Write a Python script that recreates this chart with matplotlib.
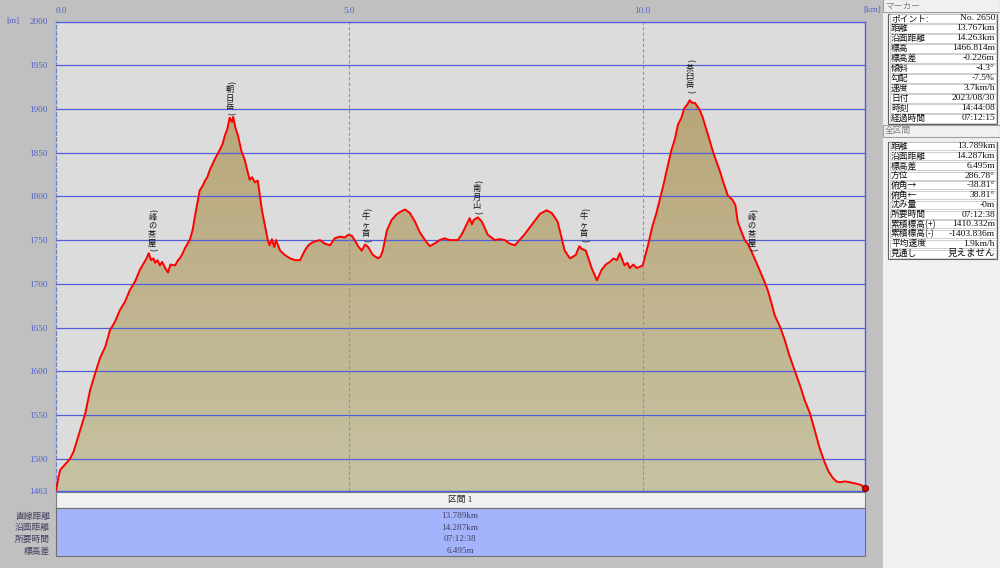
import matplotlib
matplotlib.use("Agg")
import matplotlib.pyplot as plt
import numpy as np
from matplotlib.patches import Rectangle, Polygon
from matplotlib.colors import LinearSegmentedColormap

plt.rcParams['font.family'] = ['Noto Sans CJK JP', 'DejaVu Sans']

# ---------------- data ----------------
dist_km = [0.00, 0.04, 0.07, 0.15, 0.24, 0.30, 0.41, 0.50, 0.58, 0.66, 0.75, 0.84, 0.92, 1.00, 1.09,
           1.18, 1.26, 1.35, 1.43, 1.50, 1.55, 1.58, 1.62, 1.66, 1.69, 1.73, 1.77, 1.81, 1.86,
           1.91, 1.95, 2.03, 2.08, 2.11, 2.16, 2.20, 2.28, 2.33, 2.37, 2.45, 2.50, 2.54, 2.58, 2.62,
           2.71, 2.79, 2.84, 2.88, 2.92, 2.96, 3.00, 3.02, 3.06, 3.10,
           3.16, 3.22, 3.30, 3.34, 3.39, 3.44, 3.51, 3.61, 3.64, 3.68, 3.72, 3.75, 3.82, 3.90, 3.99,
           4.08, 4.16, 4.24, 4.30, 4.36, 4.44, 4.50, 4.58, 4.67,
           4.75, 4.84, 4.92, 4.98, 5.04, 5.09, 5.15, 5.21, 5.27, 5.32, 5.40, 5.49, 5.53, 5.57, 5.64,
           5.72, 5.80, 5.86, 5.95, 6.03,
           6.12, 6.20, 6.29, 6.37, 6.45, 6.54, 6.62, 6.71, 6.85, 6.92, 6.97, 7.05, 7.09, 7.12, 7.19,
           7.26, 7.36, 7.48, 7.56, 7.65,
           7.73, 7.82, 7.90, 7.98, 8.07, 8.16, 8.25, 8.36, 8.45, 8.55, 8.62, 8.67, 8.76, 8.86, 8.92,
           8.96, 9.03, 9.13, 9.22,
           9.30, 9.37, 9.44, 9.50, 9.56, 9.61, 9.69, 9.74, 9.78, 9.84, 9.90, 10.00, 10.09, 10.17,
           10.23, 10.29, 10.35, 10.41, 10.49, 10.55, 10.60,
           10.66, 10.71, 10.76, 10.80, 10.84, 10.89, 10.93, 10.97, 11.02, 11.06, 11.12, 11.18, 11.24,
           11.31, 11.38, 11.45, 11.53, 11.58, 11.62, 11.68, 11.74, 11.80, 11.86, 11.92, 11.99,
           12.06, 12.13, 12.19, 12.25, 12.34, 12.42, 12.50, 12.59, 12.68, 12.76, 12.85, 12.93,
           13.02, 13.10, 13.17, 13.24, 13.30, 13.36, 13.45, 13.53, 13.60, 13.66, 13.72, 13.789]
elev_m = [1463, 1478, 1487, 1493, 1500, 1508, 1532, 1552, 1578, 1596, 1615, 1628, 1647, 1656, 1670,
          1680, 1693, 1703, 1716, 1724, 1730, 1735, 1727, 1729, 1724, 1727, 1721, 1725, 1718,
          1713, 1722, 1721, 1727, 1729, 1735, 1741, 1750, 1762, 1778, 1807, 1812, 1818, 1822, 1830,
          1843, 1853, 1860, 1870, 1877, 1890, 1885, 1891, 1878, 1870,
          1852, 1841, 1819, 1822, 1816, 1818, 1784, 1750, 1744, 1751, 1742, 1750, 1738, 1733, 1729,
          1727, 1727, 1738, 1744, 1747, 1749, 1750, 1746, 1744,
          1752, 1754, 1753, 1756, 1755, 1750, 1743, 1738, 1745, 1742, 1733, 1729, 1731, 1738, 1761,
          1773, 1779, 1782, 1785, 1781,
          1771, 1759, 1750, 1743, 1746, 1750, 1752, 1750, 1750, 1757, 1764, 1775, 1768, 1773, 1776,
          1771, 1756, 1750, 1751, 1750,
          1746, 1744, 1750, 1756, 1764, 1772, 1780, 1784, 1781, 1771, 1752, 1738, 1729, 1733, 1743,
          1740, 1738, 1718, 1704,
          1716, 1722, 1725, 1729, 1727, 1735, 1721, 1724, 1718, 1722, 1718, 1721, 1744, 1767,
          1780, 1796, 1812, 1830, 1853, 1866, 1882,
          1890, 1901, 1905, 1910, 1907, 1907, 1903, 1899, 1891, 1882, 1869, 1855, 1843,
          1830, 1815, 1801, 1796, 1790, 1771, 1760, 1750, 1745, 1736, 1727, 1716,
          1705, 1693, 1679, 1664, 1651, 1636, 1618, 1601, 1584, 1567, 1552, 1533,
          1511, 1496, 1485, 1478, 1474, 1473, 1474, 1473, 1472, 1471, 1470, 1466]

peak_names = ["峰の茶屋", "朝日岳", "牛ヶ首", "南月山", "牛ヶ首", "茶臼岳", "峰の茶屋"]
peak_x = [1.64, 2.96, 5.28, 7.17, 9.00, 10.80, 11.86]
peak_label_top = [1787, 1933, 1788, 1820, 1788, 1958, 1787]

y_ticks = [1463, 1500, 1550, 1600, 1650, 1700, 1750, 1800, 1850, 1900, 1950, 2000]
x_ticks = [0.0, 5.0, 10.0]
x_tick_labels = ["0.0", "5.0", "10.0"]

marker_labels = ["ポイント:", "距離", "沿面距離", "標高", "標高差", "傾斜", "勾配", "速度", "日付", "時刻", "経過時間"]
marker_values = ["No. 2650", "13.767km", "14.263km", "1466.814m", "-0.226m", "-4.3°", "-7.5%",
                 "3.7km/h", "2023/08/30", "14:44:08", "07:12:15"]
total_labels = ["距離", "沿面距離", "標高差", "方位", "俯角→", "俯角←", "沈み量", "所要時間",
                "累積標高(+)", "累積標高(-)", "平均速度", "見通し"]
total_values = ["13.789km", "14.287km", "6.495m", "286.78°", "-38.81°", "38.81°", "-0m",
                "07:12:38", "1410.332m", "-1403.836m", "1.9km/h", "見えません"]
section_title = "区間 1"
section_labels = ["直線距離", "沿面距離", "所要時間", "標高差"]
section_values = ["13.789km", "14.287km", "07:12:38", "6.495m"]

# ---------------- figure ----------------
W, H = 1000, 568
fig = plt.figure(figsize=(W / 100, H / 100), dpi=100, facecolor='#C0C0C0')

ov = fig.add_axes([0, 0, 1, 1], zorder=0)
ov.set_xlim(0, W)
ov.set_ylim(H, 0)
ov.axis('off')

blue_txt = '#5462C4'
FS = 6.3
SER = ['Liberation Serif', 'Noto Sans CJK JP', 'DejaVu Sans']

x_max = 13.789
y_min, y_max = 1463, 2000
left_px, right_px, top_px, bot_px = 56, 865, 21.5, 491
ax = fig.add_axes([left_px / W, 1 - bot_px / H, (right_px - left_px) / W, (bot_px - top_px) / H], zorder=1)
ax.set_facecolor('#DCDCDC')
ax.set_xlim(0, x_max)
ax.set_ylim(y_min, y_max)

# gradient fill under profile
verts = [(dist_km[0], y_min)] + list(zip(dist_km, elev_m)) + [(dist_km[-1], y_min)]
poly = Polygon(verts, closed=True, facecolor='none', edgecolor='none')
ax.add_patch(poly)
cmap = LinearSegmentedColormap.from_list('terrain_fill', ['#C6C2A3', '#B9A67A'])
grad = np.linspace(0, 1, 256).reshape(-1, 1)
im = ax.imshow(grad, extent=(0, x_max, y_min, 1910), origin='lower', cmap=cmap,
               aspect='auto', zorder=1, interpolation='bilinear')
im.set_clip_path(poly)

# grid
for yv in [1500, 1550, 1600, 1650, 1700, 1750, 1800, 1850, 1900, 1950]:
    ax.axhline(yv, color='#5060D8', lw=0.9, zorder=2)
for xv in [5.0, 10.0]:
    ax.axvline(xv, color='#8A90C0', lw=0.8, ls=(0, (3, 2)), zorder=2)

# profile line
ax.plot(dist_km, elev_m, color='#FF0000', lw=1.4, zorder=4)
ax.plot([dist_km[-1]], [elev_m[-1]], marker='o', ms=4.5, color='#E00000', mec='#500000', mew=0.6,
        zorder=5, clip_on=False)

# peak labels (vertical, upright characters, rotated parentheses)
pitch_pt = 6.1   # vertical pitch per character, points
paren_pt = 4.0
for name, px, ptop in zip(peak_names, peak_x, peak_label_top):
    off = -paren_pt / 2
    ax.annotate("(", xy=(px, ptop), xytext=(0, off), textcoords='offset points', rotation=-90,
                ha='center', va='center', fontsize=5.6, color='#101010', zorder=6,
                family=['DejaVu Sans'])
    off -= paren_pt / 2 + pitch_pt / 2
    for ch in name:
        ax.annotate(ch, xy=(px, ptop), xytext=(0, off), textcoords='offset points',
                    ha='center', va='center', fontsize=5.9, color='#101010', zorder=6)
        off -= pitch_pt
    off += pitch_pt / 2 - paren_pt / 2
    ax.annotate(")", xy=(px, ptop), xytext=(0, off), textcoords='offset points', rotation=-90,
                ha='center', va='center', fontsize=5.6, color='#101010', zorder=6,
                family=['DejaVu Sans'])

# spines
for s in ['top', 'right', 'bottom']:
    ax.spines[s].set_color('#5060D8')
    ax.spines[s].set_linewidth(1.0)
ax.spines['left'].set_color('#7080C8')
ax.spines['left'].set_linestyle((0, (3, 2)))
ax.spines['left'].set_linewidth(0.9)

# ticks
ax.set_yticks(y_ticks)
ax.set_yticklabels([str(v) for v in y_ticks], family=SER)
ax.tick_params(axis='y', length=0, pad=6, labelsize=FS + 0.3, labelcolor=blue_txt)
ax.xaxis.tick_top()
ax.set_xticks(x_ticks)
ax.set_xticklabels(x_tick_labels, family=SER)
ax.tick_params(axis='x', length=0, pad=5, labelsize=FS + 0.3, labelcolor=blue_txt)
ax.get_xticklabels()[0].set_ha('left')

ov.text(6, 21, "[m]", fontsize=FS + 0.3, color=blue_txt, ha='left', va='center', family=SER)
ov.text(881, 10, "[km]", fontsize=FS + 0.3, color=blue_txt, ha='right', va='center', family=SER)

# ---------------- bottom section table ----------------
ov.add_patch(Rectangle((56, 492), 809, 16, facecolor='#F0F0F0', edgecolor='#808080', lw=0.8))
ov.text(460, 500, section_title, fontsize=FS, color='#202020', ha='center', va='center', family=SER)
ov.add_patch(Rectangle((56, 508), 809, 48, facecolor='#A4B4FC', edgecolor='#707070', lw=0.8))
for i, (lab, val) in enumerate(zip(section_labels, section_values)):
    yy = 516 + i * 11.7
    ov.text(50, yy, lab, fontsize=FS, color='#404060', ha='right', va='center')
    ov.text(460, yy, val, fontsize=FS + 0.3, color='#404060', ha='center', va='center', family=SER)

# ---------------- right panel ----------------
ov.add_patch(Rectangle((883, 0), 117, H, facecolor='#F0F0F0', edgecolor='none'))
ov.add_patch(Rectangle((883, -1), 117, 13, facecolor='#F0F0F0', edgecolor='#A0A0A0', lw=0.8))
ov.text(885, 6, "マーカー", fontsize=FS, color='#808080', ha='left', va='center')


def draw_table(y0, labels, values, rh):
    n = len(labels)
    ov.add_patch(Rectangle((888, y0), 109, rh * n, facecolor='white', edgecolor='#606060', lw=0.8))
    for i, (lab, val) in enumerate(zip(labels, values)):
        yy = y0 + rh * i
        ov.add_patch(Rectangle((889.5, yy + 0.8), 106, rh - 1.6, facecolor='white',
                               edgecolor='#C8C8C8', lw=0.6))
        ov.text(891, yy + rh / 2, lab, fontsize=FS, color='#101010', ha='left', va='center')
        ov.text(995, yy + rh / 2, val, fontsize=FS + 0.5, color='#101010', ha='right', va='center',
                family=SER)


draw_table(13.5, marker_labels, marker_values, 10.0)
ov.add_patch(Rectangle((883, 125), 117, 12, facecolor='#F0F0F0', edgecolor='#A0A0A0', lw=0.8))
ov.text(885, 131, "全区間", fontsize=FS, color='#808080', ha='left', va='center')
draw_table(141.5, total_labels, total_values, 9.75)

fig.savefig("out.png", dpi=100, facecolor=fig.get_facecolor())
